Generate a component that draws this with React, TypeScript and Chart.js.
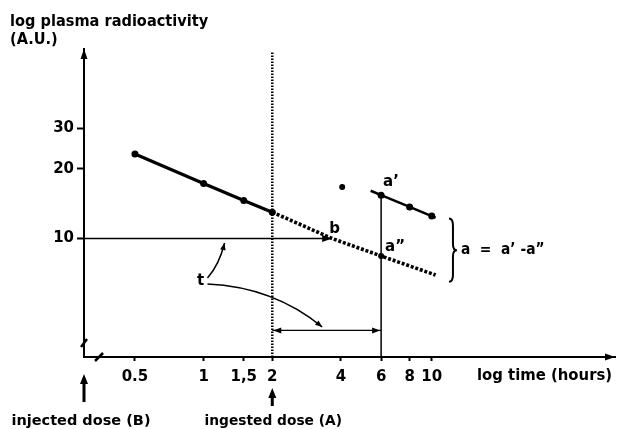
import React, { useEffect, useRef } from "react";
import { Chart, registerables } from "chart.js";

Chart.register(...registerables);

const FONT_FAMILY = "'DejaVu Sans', 'Liberation Sans', sans-serif";

// ---- axes (log time in hours, log plasma radioactivity in A.U.) ----
const X_MIN = 0.299;
const X_MAX = 63.6;
const Y_MIN = 3.07;
const Y_MAX = 66.1;
const xTickValues = [0.5, 1, 1.5, 2, 4, 6, 8, 10];
const xTickLabels = ["0.5", "1", "1,5", "2", "4", "6", "8", "10"];
const yTickValues = [10, 20, 30];
const yTickLabels = ["10", "20", "30"];

// ---- measured decay after injection (solid) ----
const earlyTimes = [0.5, 1, 1.5, 2];
const earlyActivity = [23.2, 17.3, 14.6, 13.0];

// ---- extrapolated decay (dotted) ----
const extrapTimes = [2, 3.66, 6, 10.4];
const extrapActivity = [13.0, 10.0, 8.4, 6.95];
const extrapMarkers = [0, 0, 3, 0];

// ---- after ingestion (a') ----
const lateTimes = [5.4, 6, 8, 10, 10.4];
const lateActivity = [16.1, 15.4, 13.7, 12.5, 12.3];
const lateMarkers = [0, 3.5, 3.5, 3.5, 0];

// ---- isolated point ----
const strayTimes = [4.05];
const strayActivity = [16.7];

// ---- reference marks ----
const ingestionTime = 2;
const ingestionLineTop = 64;
const sampleTime = 6;
const aPrime = 15.4;
const aSecond = 8.4;
const bTime = 3.66;
const bActivity = 10;
const intervalActivity = 4.0;
const tLabel = [0.97, 6.6];
const tCurveUp = [[1.04, 6.75], [1.17, 7.68], [1.235, 9.56]];
const tCurveDown = [[1.04, 6.35], [2.02, 6.17], [3.31, 4.14]];
const braceTime = 11.9;
const braceTop = 12.2;
const braceBottom = 6.5;
const xBreak = 0.348;
const yBreak = 3.53;

const pts = (xs: number[], ys: number[]) => xs.map((x, i) => ({ x, y: ys[i] }));

function arrowHead(ctx: CanvasRenderingContext2D, x: number, y: number, angle: number, len = 9, half = 3.5) {
  ctx.save();
  ctx.translate(x, y);
  ctx.rotate(angle);
  ctx.beginPath();
  ctx.moveTo(0, 0);
  ctx.lineTo(-len, -half);
  ctx.lineTo(-len, half);
  ctx.closePath();
  ctx.fill();
  ctx.restore();
}

function label(ctx: CanvasRenderingContext2D, s: string, x: number, y: number, align: CanvasTextAlign = "left", size = 15, sx = 1, baseline: CanvasTextBaseline = "alphabetic") {
  ctx.save();
  ctx.font = `bold ${size}px ${FONT_FAMILY}`;
  ctx.textAlign = align;
  ctx.textBaseline = baseline;
  ctx.fillStyle = "#000";
  ctx.translate(x, y);
  ctx.scale(sx, 1);
  ctx.fillText(s, 0, 0);
  ctx.restore();
}

const annotations = {
  id: "annotations",
  afterDatasetsDraw(chart: any) {
    const ctx: CanvasRenderingContext2D = chart.ctx;
    const xs = chart.scales.x;
    const ys = chart.scales.y;
    const X = (v: number) => xs.getPixelForValue(v);
    const Y = (v: number) => ys.getPixelForValue(v);
    const ca = chart.chartArea;
    ctx.save();
    ctx.fillStyle = "#000";
    ctx.strokeStyle = "#000";

    // axis arrow tips
    arrowHead(ctx, ca.left, ca.top, -Math.PI / 2, 10, 3.5);
    arrowHead(ctx, ca.right, ca.bottom, 0, 10, 3.5);

    // axis breaks
    ctx.lineWidth = 2.5;
    ctx.beginPath();
    ctx.moveTo(ca.left - 3, Y(yBreak) + 4);
    ctx.lineTo(ca.left + 3, Y(yBreak) - 4);
    ctx.moveTo(X(xBreak) - 4, ca.bottom + 4);
    ctx.lineTo(X(xBreak) + 4, ca.bottom - 4);
    ctx.stroke();

    // arrow to b
    arrowHead(ctx, X(bTime), Y(bActivity), 0, 10, 3.5);

    // interval double arrow
    arrowHead(ctx, X(ingestionTime) + 1, Y(intervalActivity), Math.PI, 8, 3);
    arrowHead(ctx, X(sampleTime) - 1, Y(intervalActivity), 0, 8, 3);

    // curves from t
    ctx.lineWidth = 1.5;
    for (const c of [tCurveUp, tCurveDown]) {
      const p0 = [X(c[0][0]), Y(c[0][1])];
      const p1 = [X(c[1][0]), Y(c[1][1])];
      const p2 = [X(c[2][0]), Y(c[2][1])];
      ctx.beginPath();
      ctx.moveTo(p0[0], p0[1]);
      ctx.quadraticCurveTo(p1[0], p1[1], p2[0], p2[1]);
      ctx.stroke();
      arrowHead(ctx, p2[0], p2[1], Math.atan2(p2[1] - p1[1], p2[0] - p1[0]), 7, 2.8);
    }

    // brace
    const bx = X(braceTime);
    const top = Y(braceTop);
    const bot = Y(braceBottom);
    const mid = (top + bot) / 2;
    const w = 4;
    ctx.lineWidth = 2;
    ctx.beginPath();
    ctx.moveTo(bx, top);
    ctx.quadraticCurveTo(bx + w, top, bx + w, top + 7);
    ctx.lineTo(bx + w, mid - 6);
    ctx.quadraticCurveTo(bx + w, mid, bx + 2 * w, mid);
    ctx.quadraticCurveTo(bx + w, mid, bx + w, mid + 6);
    ctx.lineTo(bx + w, bot - 7);
    ctx.quadraticCurveTo(bx + w, bot, bx, bot);
    ctx.stroke();

    // labels in plot
    label(ctx, "a\u2019", X(sampleTime) + 2, Y(aPrime) - 9);
    label(ctx, "a\u201D", X(sampleTime) + 4, Y(aSecond) - 5);
    label(ctx, "b", X(bTime) - 3, Y(bActivity) - 6);
    label(ctx, "t", X(tLabel[0]), Y(tLabel[1]) + 5, "center");
    label(ctx, "a  =  a\u2019 -a\u201D", bx + 2 * w + 4, mid, "left", 15, 0.92, "middle");

    // axis titles
    label(ctx, "log plasma radioactivity", 10, ca.top - 23, "left", 16, 0.91);
    label(ctx, "(A.U.)", 10, ca.top - 5, "left", 16, 0.91);
    label(ctx, "log time (hours)", 477, ca.bottom + 19, "left", 15, 0.99, "middle");

    // dose arrows under the axis
    ctx.lineWidth = 3;
    ctx.beginPath();
    ctx.moveTo(ca.left, ca.bottom + 45);
    ctx.lineTo(ca.left, ca.bottom + 26);
    ctx.moveTo(X(ingestionTime), ca.bottom + 49);
    ctx.lineTo(X(ingestionTime), ca.bottom + 40);
    ctx.stroke();
    arrowHead(ctx, ca.left, ca.bottom + 17, -Math.PI / 2, 10, 4);
    arrowHead(ctx, X(ingestionTime), ca.bottom + 31, -Math.PI / 2, 10, 4);
    label(ctx, "injected dose (B)", ca.left - 3, ca.bottom + 68, "center", 14.5);
    label(ctx, "ingested dose (A)", X(ingestionTime) + 1, ca.bottom + 68, "center", 14.5, 0.95);

    ctx.restore();
  },
};

export default function App() {
  const ref = useRef<HTMLCanvasElement>(null);

  useEffect(() => {
    if (!ref.current) return;
    const black = "#000";
    const chart = new Chart(ref.current, {
      type: "scatter",
      data: {
        datasets: [
          {
            data: [{ x: ingestionTime, y: Y_MIN }, { x: ingestionTime, y: ingestionLineTop }],
            showLine: true,
            borderColor: black,
            borderWidth: 2.5,
            borderDash: [1.5, 1.5],
            pointRadius: 0,
          },
          {
            data: [{ x: sampleTime, y: Y_MIN }, { x: sampleTime, y: aPrime }],
            showLine: true,
            borderColor: black,
            borderWidth: 1.5,
            pointRadius: 0,
          },
          {
            data: [{ x: X_MIN, y: bActivity }, { x: bTime - 0.15, y: bActivity }],
            showLine: true,
            borderColor: black,
            borderWidth: 1.5,
            pointRadius: 0,
          },
          {
            data: [{ x: ingestionTime, y: intervalActivity }, { x: sampleTime, y: intervalActivity }],
            showLine: true,
            borderColor: black,
            borderWidth: 1.3,
            pointRadius: 0,
          },
          {
            data: pts(earlyTimes, earlyActivity),
            showLine: true,
            borderColor: black,
            borderWidth: 3.2,
            pointRadius: 3.5,
            pointBackgroundColor: black,
            pointBorderWidth: 0,
          },
          {
            data: pts(extrapTimes, extrapActivity),
            showLine: true,
            borderColor: black,
            borderWidth: 3.6,
            borderDash: [3, 1.8],
            borderCapStyle: "butt",
            pointRadius: extrapMarkers,
            pointBackgroundColor: black,
            pointBorderWidth: 0,
          },
          {
            data: pts(lateTimes, lateActivity),
            showLine: true,
            borderColor: black,
            borderWidth: 2.6,
            pointRadius: lateMarkers,
            pointBackgroundColor: black,
            pointBorderWidth: 0,
          },
          {
            data: pts(strayTimes, strayActivity),
            showLine: false,
            pointRadius: 3,
            pointBackgroundColor: black,
            pointBorderWidth: 0,
          },
        ],
      },
      options: {
        responsive: false,
        animation: false,
        devicePixelRatio: 1,
        layout: { padding: { left: 0, top: 49, right: 2, bottom: 0 } },
        plugins: { legend: { display: false }, tooltip: { enabled: false } },
        elements: { line: { tension: 0 } },
        scales: {
          x: {
            type: "logarithmic",
            min: X_MIN,
            max: X_MAX,
            afterFit: (s: any) => { s.height = 72; },
            afterBuildTicks: (s: any) => { s.ticks = xTickValues.map((v) => ({ value: v })); },
            ticks: {
              autoSkip: false,
              maxRotation: 0,
              color: black,
              padding: 7,
              font: { family: FONT_FAMILY, weight: "bold", size: 15 },
              callback: (_v: any, i: number) => xTickLabels[i],
            },
            grid: { drawOnChartArea: false, drawTicks: true, tickLength: 4, tickWidth: 2, tickColor: black },
            border: { display: true, color: black, width: 2 },
          },
          y: {
            type: "logarithmic",
            min: Y_MIN,
            max: Y_MAX,
            afterFit: (s: any) => { s.width = 84; },
            afterBuildTicks: (s: any) => { s.ticks = yTickValues.map((v) => ({ value: v })); },
            ticks: {
              autoSkip: false,
              color: black,
              padding: 3,
              font: { family: FONT_FAMILY, weight: "bold", size: 15 },
              callback: (_v: any, i: number) => yTickLabels[i],
            },
            grid: { drawOnChartArea: false, drawTicks: true, tickLength: 7, tickWidth: 2, tickColor: black },
            border: { display: true, color: black, width: 2 },
          },
        },
      },
      plugins: [annotations],
    } as any);
    return () => chart.destroy();
  }, []);

  return (
    <div style={{ position: "absolute", left: 0, top: 0, width: 619, height: 429, background: "#fff" }}>
      <canvas ref={ref} width={619} height={429} />
    </div>
  );
}
